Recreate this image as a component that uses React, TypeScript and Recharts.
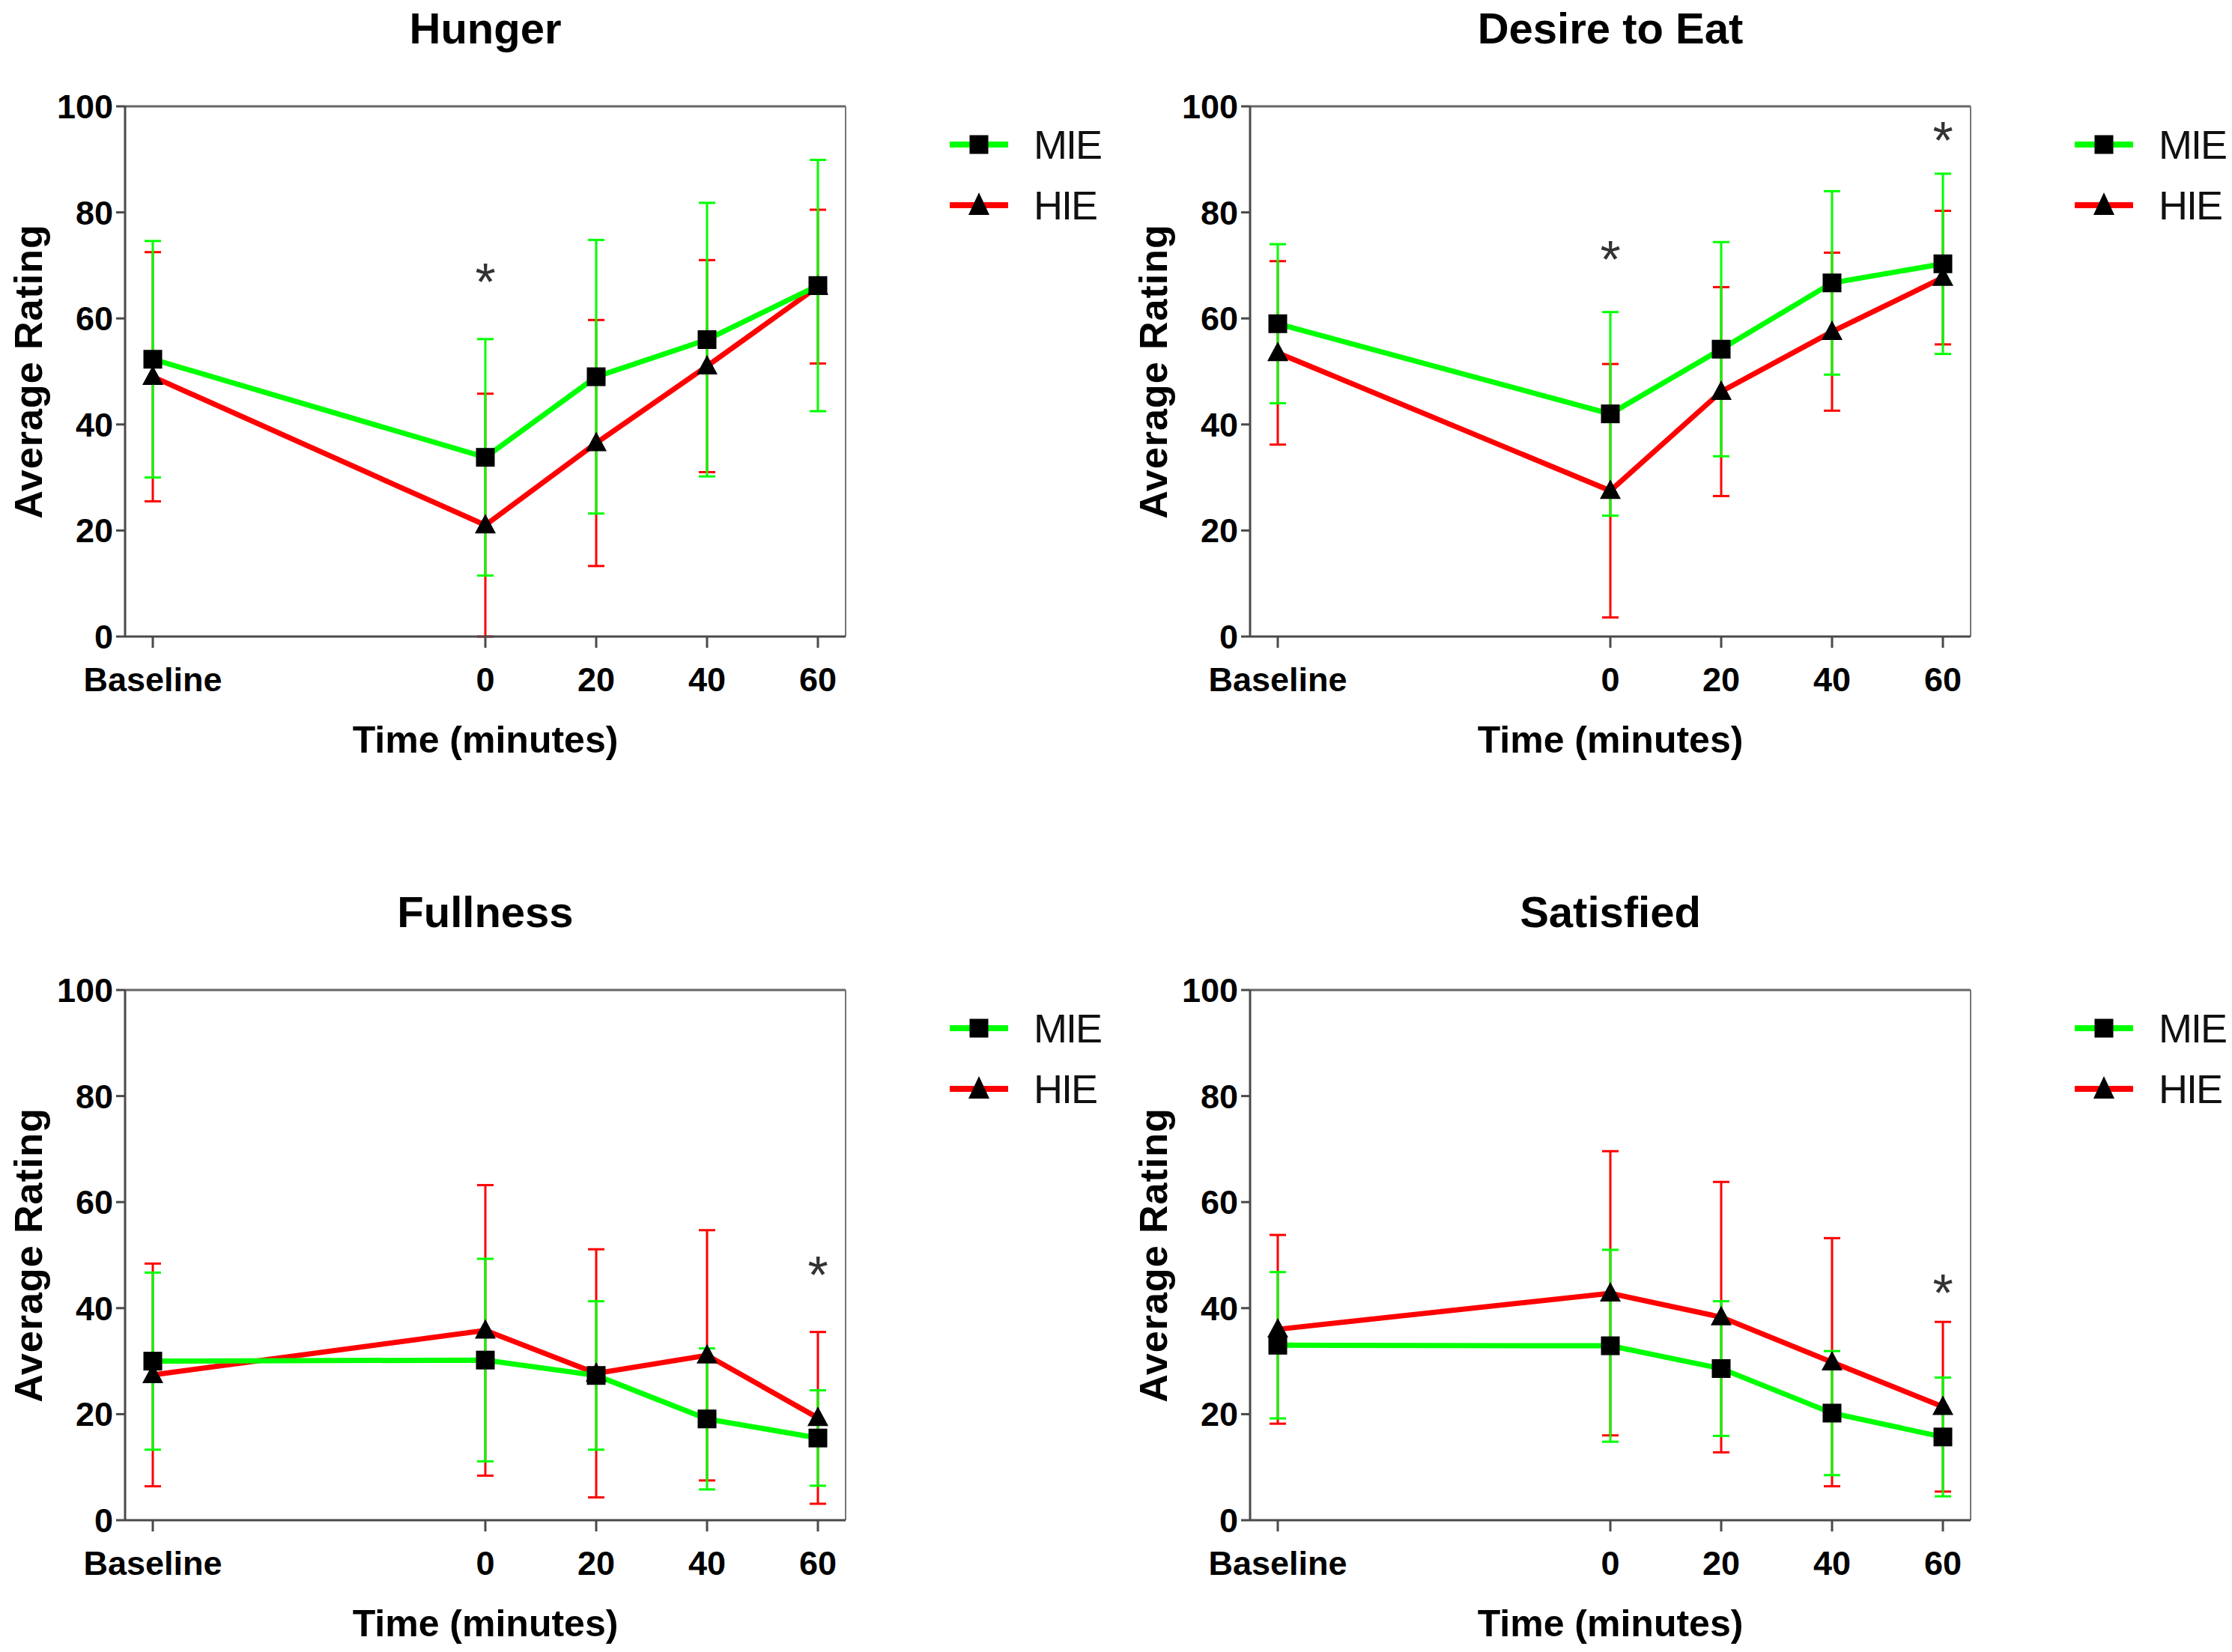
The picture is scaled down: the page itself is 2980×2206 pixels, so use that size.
import React from 'react';
import {
  LineChart,
  Line,
  XAxis,
  YAxis,
  ErrorBar,
  ReferenceLine,
  ReferenceDot,
  Legend,
} from 'recharts';

const FONT = '"Liberation Sans", Arial, sans-serif';
const GREEN = '#00ff00';
const RED = '#ff0000';
const AXIS = '#4a4a4a';

// time points (Baseline plotted at -60)
const timePoints = [-60, 0, 20, 40, 60];
const xTicks = [-60, 0, 20, 40, 60];
const yTicks = [0, 20, 40, 60, 80, 100];

const hungerMIE = [52.3, 33.8, 49, 56, 66.2];
const hungerMIEErr = [22.3, 22.3, 25.8, 25.8, 23.7];
const hungerHIE = [49, 21, 36.5, 51, 66];
const hungerHIEErr: (number | number[])[] = [23.5, [21, 24.8], 23.2, 20, 14.5];
const hungerStars = [{ t: 0, y: 69 }];

const desireMIE = [59, 42, 54.2, 66.7, 70.3];
const desireMIEErr = [15, 19.2, 20.2, 17.3, 17];
const desireHIE = [53.5, 27.5, 46.2, 57.5, 67.7];
const desireHIEErr = [17.3, 23.9, 19.7, 14.9, 12.6];
const desireStars = [{ t: 0, y: 73.3 }, { t: 60, y: 95.7 }];

const fullnessMIE = [30, 30.2, 27.3, 19.1, 15.5];
const fullnessMIEErr = [16.7, 19.1, 14, 13.3, 9];
const fullnessHIE = [27.4, 35.8, 27.7, 31.1, 19.3];
const fullnessHIEErr = [21, 27.4, 23.4, 23.6, 16.2];
const fullnessStars = [{ t: 60, y: 48.4 }];

const satisfiedMIE = [33, 32.9, 28.6, 20.2, 15.7];
const satisfiedMIEErr = [13.8, 18.1, 12.7, 11.7, 11.2];
const satisfiedHIE = [36, 42.8, 38.3, 29.8, 21.4];
const satisfiedHIEErr = [17.8, 26.8, 25.5, 23.4, 16];
const satisfiedStars = [{ t: 60, y: 45.1 }];

const legendOrder = ['MIE', 'HIE'];

const squareDot = (props: any) => {
  const { cx, cy, index } = props;
  if (cx == null || cy == null) return <g key={`sq-${index}`} />;
  return <rect key={`sq-${index}`} x={cx - 12.5} y={cy - 12.5} width={25} height={25} fill="#000" />;
};

const triangleDot = (props: any) => {
  const { cx, cy, index } = props;
  if (cx == null || cy == null) return <g key={`tr-${index}`} />;
  return (
    <path
      key={`tr-${index}`}
      d={`M${cx},${cy - 15} L${cx + 14},${cy + 11} L${cx - 14},${cy + 11} Z`}
      fill="#000"
    />
  );
};

const starShape = (props: any) => (
  <text x={props.cx} y={props.cy + 40} textAnchor="middle" fontSize={70} fontFamily={FONT} fill="#333">
    *
  </text>
);

const renderLegend = (props: any) => {
  const items = [...(props.payload || [])].sort(
    (a: any, b: any) => legendOrder.indexOf(a.value) - legendOrder.indexOf(b.value)
  );
  return (
    <div>
      {items.map((item: any) => (
        <div key={item.value} style={{ display: 'flex', alignItems: 'center', height: 81 }}>
          <svg width={78} height={40} style={{ marginRight: 34 }}>
            <line x1={2} y1={20} x2={76} y2={20} stroke={item.color} strokeWidth={8} strokeLinecap="round" />
            {item.value === 'MIE' ? (
              <rect x={26.5} y={7.5} width={25} height={25} fill="#000" />
            ) : (
              <path d="M39,3 L53,33 L25,33 Z" fill="#000" />
            )}
          </svg>
          <span style={{ fontFamily: FONT, fontSize: 54, color: '#111', letterSpacing: -2 }}>{item.value}</span>
        </div>
      ))}
    </div>
  );
};

const XLabel = (props: any) => {
  const vb = props.viewBox;
  return (
    <text
      x={vb.x + vb.width / 2}
      y={vb.y + 138}
      textAnchor="middle"
      dominantBaseline="central"
      fontFamily={FONT}
      fontWeight="bold"
      fontSize={50}
      fill="#000"
    >
      Time (minutes)
    </text>
  );
};

const YLabel = (props: any) => {
  const vb = props.viewBox;
  const cx = 38;
  const cy = vb.y + vb.height / 2;
  return (
    <text
      x={cx}
      y={cy}
      transform={`rotate(-90 ${cx} ${cy})`}
      textAnchor="middle"
      dominantBaseline="central"
      fontFamily={FONT}
      fontWeight="bold"
      fontSize={52}
      letterSpacing={1}
      fill="#000"
    >
      Average Rating
    </text>
  );
};

type PanelProps = {
  title: string;
  mie: number[];
  mieErr: (number | number[])[];
  hie: number[];
  hieErr: (number | number[])[];
  stars: { t: number; y: number }[];
  left: number;
  top: number;
};

function Panel({ title, mie, mieErr, hie, hieErr, stars, left, top }: PanelProps) {
  const data = timePoints.map((t, i) => ({
    t,
    mie: mie[i],
    mieErr: mieErr[i],
    hie: hie[i],
    hieErr: hieErr[i],
  }));
  const tickStyle = { fill: '#000', fontSize: 45, fontWeight: 'bold', fontFamily: FONT };
  return (
    <div style={{ position: 'absolute', left, top, width: 1480, height: 1180 }}>
      <div
        style={{
          position: 'absolute',
          left: 0,
          top: 0,
          width: 1296,
          lineHeight: '76px',
          textAlign: 'center',
          fontFamily: FONT,
          fontWeight: 'bold',
          fontSize: 58,
          color: '#000',
        }}
      >
        {title}
      </div>
      {/* legend width (210) is added to the right offset by recharts */}
      <LineChart width={1480} height={1180} data={data} margin={{ top: 142, right: 141, bottom: 30, left: 0 }}>
        <XAxis
          dataKey="t"
          type="number"
          domain={[-65, 65]}
          ticks={xTicks}
          allowDataOverflow
          tickFormatter={(v: number) => (v === -60 ? 'Baseline' : String(v))}
          tick={tickStyle}
          tickSize={15}
          tickMargin={26}
          height={300}
          stroke={AXIS}
          strokeWidth={3}
          label={XLabel}
        />
        <YAxis
          type="number"
          domain={[0, 100]}
          ticks={yTicks}
          allowDataOverflow
          tick={tickStyle}
          tickSize={12}
          tickMargin={4}
          width={167}
          stroke={AXIS}
          strokeWidth={3}
          label={YLabel}
        />
        <ReferenceLine y={100} stroke="#666" strokeWidth={3} />
        <ReferenceLine x={65} stroke="#777" strokeWidth={2} />
        <Legend
          layout="horizontal"
          verticalAlign="middle"
          align="right"
          content={renderLegend}
          wrapperStyle={{ left: 1268, top: 152, width: 210, right: 'auto', bottom: 'auto' }}
        />
        <Line
          dataKey="hie"
          name="HIE"
          stroke={RED}
          strokeWidth={7}
          dot={triangleDot}
          activeDot={false}
          isAnimationActive={false}
        >
          <ErrorBar dataKey="hieErr" direction="y" width={11} stroke={RED} strokeWidth={3} />
        </Line>
        <Line
          dataKey="mie"
          name="MIE"
          stroke={GREEN}
          strokeWidth={7}
          dot={squareDot}
          activeDot={false}
          isAnimationActive={false}
        >
          <ErrorBar dataKey="mieErr" direction="y" width={11} stroke={GREEN} strokeWidth={3} />
        </Line>
        {stars.map((s, i) => (
          <ReferenceDot key={i} x={s.t} y={s.y} r={0} shape={starShape} />
        ))}
      </LineChart>
    </div>
  );
}

export default function App() {
  return (
    <div style={{ position: 'absolute', left: 0, top: 0, width: 2980, height: 2206, background: '#fff' }}>
      <Panel title="Hunger" mie={hungerMIE} mieErr={hungerMIEErr} hie={hungerHIE} hieErr={hungerHIEErr} stars={hungerStars} left={0} top={0} />
      <Panel title="Desire to Eat" mie={desireMIE} mieErr={desireMIEErr} hie={desireHIE} hieErr={desireHIEErr} stars={desireStars} left={1502} top={0} />
      <Panel title="Fullness" mie={fullnessMIE} mieErr={fullnessMIEErr} hie={fullnessHIE} hieErr={fullnessHIEErr} stars={fullnessStars} left={0} top={1180} />
      <Panel title="Satisfied" mie={satisfiedMIE} mieErr={satisfiedMIEErr} hie={satisfiedHIE} hieErr={satisfiedHIEErr} stars={satisfiedStars} left={1502} top={1180} />
    </div>
  );
}
